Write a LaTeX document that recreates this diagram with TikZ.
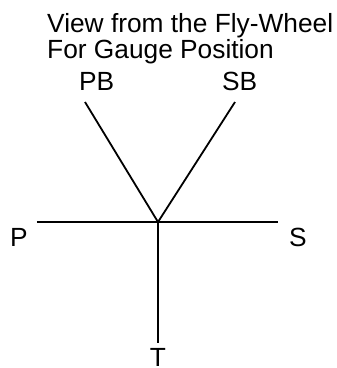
\documentclass[tikz,border=0pt]{standalone}
\usepackage{fontspec}
\setmainfont{Liberation Sans}
\begin{document}
\begin{tikzpicture}[x=1pt,y=-1pt,
  lbl/.style={inner sep=0pt,anchor=base west,font=\fontsize{26.3}{27}\selectfont},
  ln/.style={line width=1.8pt}]
\useasboundingbox (0,0) rectangle (337,368);
\node[lbl] (t1) at (47,32) {View from the Fly-Wheel};
\node[lbl] (t2) at (47,58) {For Gauge Position};
\node[lbl] (pb) at (79,90) {PB};
\node[lbl] (sb) at (222,90) {SB};
\node[lbl] (p) at (10,246) {P};
\node[lbl] (s) at (289,246) {S};
\node[lbl,anchor=north] (t) at (158,348.5) {T};
\coordinate (c) at (158,222);
\coordinate (pbe) at (85,102);
\coordinate (sbe) at (235,102);
\coordinate (pe) at (37,222);
\coordinate (se) at (278,222);
\coordinate (te) at (158,343);
\draw[ln] (pbe) -- (c) -- (sbe);
\draw[ln] (pe) -- (se);
\draw[ln] (c) -- (te);
\end{tikzpicture}
\end{document}
